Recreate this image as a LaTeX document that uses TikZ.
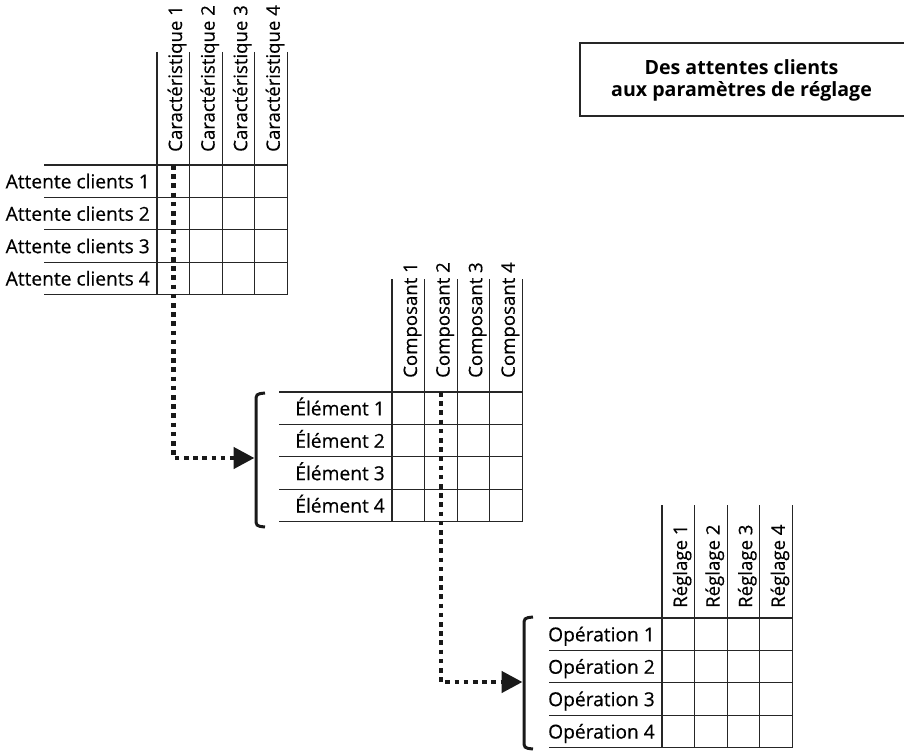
\documentclass[tikz,border=0pt]{standalone}
\usepackage{fontspec}
\setmainfont{Open Sans}
\usetikzlibrary{arrows.meta}

% cell size of the QFD grids
\def\cellw{32.6}
\def\cellh{32.4}

% #1 name, #2 grid left, #3 grid top, #4 row label stem, #5 column label stem, #6 gap above grid
\newcommand\qfdgrid[6]{%
  \foreach \i in {0,...,4} {
    \draw[gridline] (#2-113, #3+\i*\cellh) -- (#2+4*\cellw, #3+\i*\cellh);
    \draw[gridline] (#2+\i*\cellw, #3-113) -- (#2+\i*\cellw, #3+4*\cellh);
  }
  \foreach \i in {1,...,4} {
    \node[rowlabel] (#1-r\i) at (#2-7, #3+\i*\cellh-0.28*\cellh) {#4 \i};
    \node[collabel] (#1-c\i) at (#2+\i*\cellw-\cellw+25, #3-#6) {#5 \i};
    \coordinate (#1-top\i) at (#2+\i*\cellw-0.5*\cellw, #3);
  }
}

% square bracket with rounded hooks: #1 x, #2 top y, #3 bottom y
\newcommand\hookbracket[3]{%
  \draw[bracket] (#1+9, #2) .. controls (#1, #2+1) .. (#1, #2+9)
    -- (#1, #3-9) .. controls (#1, #3-1) .. (#1+9, #3);
}

\begin{document}
\begin{tikzpicture}[x=1pt, y=-1pt,
  gridline/.style={line width=1.1pt, draw=black!85},
  labelfont/.style={font=\fontsize{#1}{21}\selectfont\addfontfeature{FakeBold=0.4}},
  rowlabel/.style={anchor=base east, inner sep=0pt, labelfont=19.2},
  collabel/.style={rotate=90, anchor=base west, inner sep=0pt, labelfont=18.6},
  dotlink/.style={line width=4.6pt, draw=black!90, dash pattern=on 4.6pt off 4.6pt,
    -{Triangle[length=21pt, width=21pt]}},
  bracket/.style={line width=3pt, draw=black!90},
  titlebox/.style={line width=1.5pt, draw=black!85},
  titletext/.style={align=center, inner sep=0pt, font=\bfseries\fontsize{19.6}{22}\selectfont}]
  \useasboundingbox (0,0) rectangle (904,751);
  \clip (0,0) rectangle (904,751);

  % the three matrices
  \qfdgrid{m1}{157}{165}{Attente clients}{Caractéristique}{13}
  \qfdgrid{m2}{392}{392}{Élément}{Composant}{14}
  \qfdgrid{m3}{662}{618}{Opération}{Réglage}{10}

  % brackets grouping the rows of the lower matrices
  \hookbracket{256}{393}{527}
  \hookbracket{524}{617}{749}
  \coordinate (br1) at (254.5, 458);
  \coordinate (br2) at (522.5, 682);

  % cascade links
  \draw[dotlink] (m1-top1) |- (br1);
  \draw[dotlink] (m2-top2) |- (br2);

  % title
  \draw[titlebox] (580, 43) rectangle (930, 116);
  \node[titletext] (title) at (741.5, 80) {Des attentes clients\\aux paramètres de réglage};
\end{tikzpicture}
\end{document}
